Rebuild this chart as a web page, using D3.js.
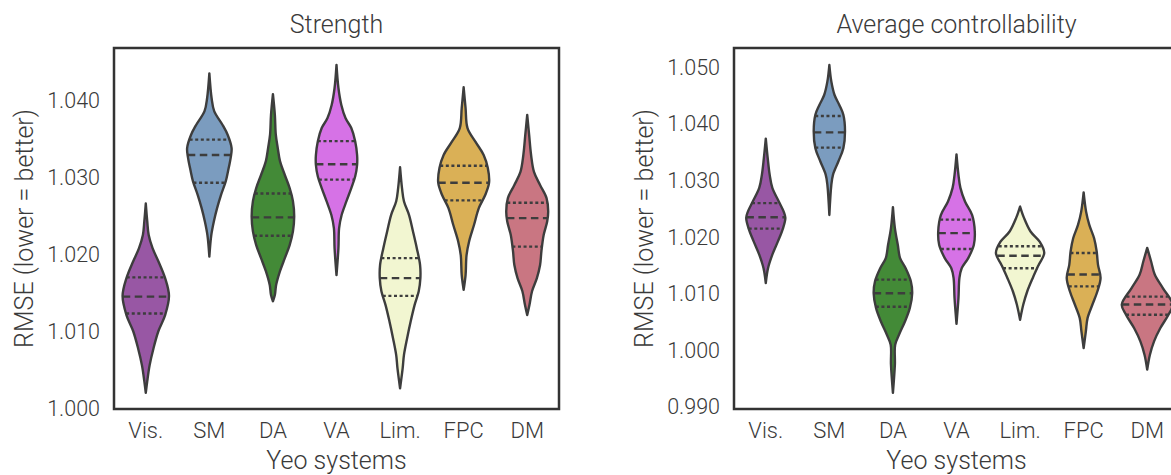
<!DOCTYPE html>
<html>
<head>
<meta charset="utf-8">
<script src="https://cdn.jsdelivr.net/npm/d3@7"></script>
<style>
  body { margin: 0; overflow: hidden; background: #fff; }
  svg text { font-family: Roboto, "Noto Sans", sans-serif; font-weight: 300; fill: #3a3a3a; }
</style>
</head>
<body>
<svg id="chart" width="1200" height="475"></svg>
<script>
// categories and colours
const systems = ["Vis.", "SM", "DA", "VA", "Lim.", "FPC", "DM"];
const colors = ["#9857a4", "#7b9cbf", "#438a37", "#d672e6", "#f2f6d1", "#dab056", "#c97682"];

// Strength: violin outline (value, kde density) and quartiles [q1, median, q3]
const strengthValues = [
  [1.0020, 1.0035, 1.0056, 1.0078, 1.0100, 1.0121, 1.0146, 1.0169, 1.0191, 1.0208, 1.0225, 1.0243, 1.0266],
  [1.0197, 1.0225, 1.0243, 1.0260, 1.0277, 1.0295, 1.0308, 1.0325, 1.0338, 1.0355, 1.0368, 1.0386, 1.0403, 1.0435],
  [1.0139, 1.0147, 1.0160, 1.0178, 1.0195, 1.0212, 1.0230, 1.0249, 1.0269, 1.0286, 1.0303, 1.0321, 1.0338, 1.0355, 1.0381, 1.0408],
  [1.0173, 1.0208, 1.0234, 1.0251, 1.0269, 1.0286, 1.0301, 1.0316, 1.0329, 1.0347, 1.0364, 1.0377, 1.0394, 1.0416, 1.0446],
  [1.0026, 1.0052, 1.0069, 1.0091, 1.0113, 1.0134, 1.0152, 1.0169, 1.0186, 1.0208, 1.0230, 1.0251, 1.0269, 1.0286, 1.0313],
  [1.0154, 1.0173, 1.0199, 1.0217, 1.0238, 1.0260, 1.0277, 1.0293, 1.0312, 1.0329, 1.0346, 1.0364, 1.0390, 1.0417],
  [1.0121, 1.0134, 1.0152, 1.0169, 1.0186, 1.0204, 1.0225, 1.0243, 1.0256, 1.0273, 1.0290, 1.0307, 1.0329, 1.0355, 1.0381]
];
const strengthDensity = [
  [0, 1.5, 4, 8, 13, 20, 24, 20, 13, 7, 3, 1.5, 0],
  [0, 2, 4.7, 8, 12, 17, 19.3, 22, 23, 19, 13.7, 5, 2.3, 0],
  [0, 2, 3.3, 7.3, 12.3, 17.3, 20.7, 22, 20.7, 17.3, 12.3, 7.3, 5, 3, 2, 0],
  [0, 2, 2.7, 5.3, 10.3, 15.3, 19.3, 21.3, 21.3, 19.3, 15.3, 9.3, 5, 2, 0],
  [0, 2.7, 4, 7.3, 11, 15, 19.3, 21, 20.7, 17.3, 13.3, 9.3, 4, 2, 0],
  [0, 2, 3, 5.7, 10.7, 15.7, 22.3, 26.3, 25, 20.7, 12.3, 4, 2, 0],
  [0, 2.3, 5, 10, 13.3, 14.7, 17, 20.7, 21.7, 20, 13.3, 7, 4, 2, 0]
];
const strengthQuartiles = [
  [1.0123, 1.0145, 1.0170],
  [1.0293, 1.0329, 1.0349],
  [1.0224, 1.0248, 1.0279],
  [1.0297, 1.0317, 1.0347],
  [1.0146, 1.0169, 1.0195],
  [1.0270, 1.0293, 1.0315],
  [1.0210, 1.0247, 1.0267]
];
const strengthTicks = [1.000, 1.010, 1.020, 1.030, 1.040];

// Average controllability
const controlValues = [
  [1.0119, 1.0145, 1.0169, 1.0192, 1.0216, 1.0234, 1.0245, 1.0263, 1.0287, 1.0310, 1.0339, 1.0374],
  [1.0239, 1.0292, 1.0310, 1.0334, 1.0357, 1.0387, 1.0416, 1.0433, 1.0451, 1.0475, 1.0504],
  [0.9925, 0.9975, 1.0010, 1.0028, 1.0051, 1.0075, 1.0101, 1.0122, 1.0145, 1.0163, 1.0186, 1.0216, 1.0253],
  [1.0047, 1.0092, 1.0128, 1.0145, 1.0163, 1.0186, 1.0210, 1.0239, 1.0263, 1.0287, 1.0310, 1.0346],
  [1.0054, 1.0081, 1.0104, 1.0128, 1.0151, 1.0172, 1.0192, 1.0210, 1.0234, 1.0254],
  [1.0004, 1.0034, 1.0057, 1.0081, 1.0104, 1.0128, 1.0151, 1.0175, 1.0198, 1.0222, 1.0245, 1.0279],
  [0.9966, 0.9992, 1.0016, 1.0039, 1.0063, 1.0081, 1.0110, 1.0134, 1.0157, 1.0181]
];
const controlDensity = [
  [0, 2.3, 6.7, 12.3, 17.7, 20, 18.3, 13.3, 6.7, 4, 2, 0],
  [0, 2, 3.7, 9.3, 14.3, 16, 14.3, 10.3, 5.3, 2, 0],
  [0, 2, 2.3, 6.3, 12.3, 17.3, 19.7, 18.3, 13, 7.3, 5, 2, 0],
  [0, 2, 3, 5.3, 12, 17.7, 18.7, 16, 8.7, 4, 2, 0],
  [0, 3.3, 7.3, 13, 19, 24.7, 20, 10.7, 4, 0],
  [0, 2.3, 4, 9, 14, 17.3, 14.7, 13.3, 10.7, 5.7, 2.5, 0],
  [0, 2.7, 7, 13.3, 21.7, 26, 16, 7.7, 4, 0]
];
const controlQuartiles = [
  [1.0215, 1.0235, 1.0260],
  [1.0358, 1.0385, 1.0414],
  [1.0077, 1.0101, 1.0125],
  [1.0179, 1.0207, 1.0231],
  [1.0145, 1.0167, 1.0184],
  [1.0113, 1.0134, 1.0172],
  [1.0063, 1.0081, 1.0095]
];
const controlTicks = [0.990, 1.000, 1.010, 1.020, 1.030, 1.040, 1.050];

const svg = d3.select("#chart");
const plotTop = 48, plotBottom = 409;

const drawPanel = (opts) => {
  let x = d3.scaleBand().domain(systems).range([opts.left, opts.right]);
  let y = d3.scaleLinear().domain(opts.domain).range([plotBottom, plotTop]);
  let maxD = d3.max(opts.density.flat());
  let w = d3.scaleLinear().domain([0, maxD]).range([0, x.bandwidth() * 0.4]);
  let g = svg.append("g");

  systems.forEach((s, i) => {
    let cx = x(s) + x.bandwidth() / 2;
    let pts = opts.values[i].map((v, j) => ({ v: v, d: opts.density[i][j] }));
    let area = d3.area()
      .y(d => y(d.v))
      .x0(d => cx - w(d.d))
      .x1(d => cx + w(d.d))
      .curve(d3.curveCatmullRom);
    g.append("path")
      .attr("d", area(pts))
      .attr("fill", colors[i])
      .attr("stroke", "#3d3d3d")
      .attr("stroke-width", 2.4)
      .attr("stroke-linejoin", "round");

    let densAt = d3.scaleLinear().domain(opts.values[i]).range(opts.density[i]);
    opts.quartiles[i].forEach((q, k) => {
      let hw = w(densAt(q));
      g.append("line")
        .attr("x1", cx - hw).attr("x2", cx + hw)
        .attr("y1", y(q)).attr("y2", y(q))
        .attr("stroke", "#3d3d3d")
        .attr("stroke-width", 2.4)
        .attr("stroke-dasharray", k === 1 ? "7.5,4.5" : "3,2.6");
    });
  });

  // frame
  g.append("rect")
    .attr("x", opts.left).attr("y", plotTop)
    .attr("width", opts.right - opts.left).attr("height", plotBottom - plotTop)
    .attr("fill", "none").attr("stroke", "#333").attr("stroke-width", 2.5);

  let yAxis = g.append("g")
    .attr("transform", `translate(${opts.left},0)`)
    .call(d3.axisLeft(y).tickValues(opts.ticks).tickFormat(d3.format(".3f")).tickSize(0).tickPadding(14));
  yAxis.select(".domain").remove();
  yAxis.selectAll("text").style("font-size", "21.5px");

  let xAxis = g.append("g")
    .attr("transform", `translate(0,${plotBottom})`)
    .call(d3.axisBottom(x).tickSize(0).tickPadding(13));
  xAxis.select(".domain").remove();
  xAxis.selectAll("text").style("font-size", "22px");

  let mid = (opts.left + opts.right) / 2;
  g.append("text")
    .attr("x", mid).attr("y", 33)
    .attr("text-anchor", "middle")
    .style("font-size", "25px")
    .text(opts.title);
  g.append("text")
    .attr("x", mid).attr("y", 469)
    .attr("text-anchor", "middle")
    .style("font-size", "25px")
    .text("Yeo systems");
  g.append("text")
    .attr("transform", `translate(${opts.left - 81},${(plotTop + plotBottom) / 2}) rotate(-90)`)
    .attr("text-anchor", "middle")
    .style("font-size", "25px")
    .text("RMSE (lower = better)");
};

drawPanel({
  title: "Strength", left: 114, right: 559,
  domain: [0.9999, 1.0468], ticks: strengthTicks,
  values: strengthValues, density: strengthDensity, quartiles: strengthQuartiles
});
drawPanel({
  title: "Average controllability", left: 734, right: 1179,
  domain: [0.98965, 1.0534], ticks: controlTicks,
  values: controlValues, density: controlDensity, quartiles: controlQuartiles
});
</script>
</body>
</html>
